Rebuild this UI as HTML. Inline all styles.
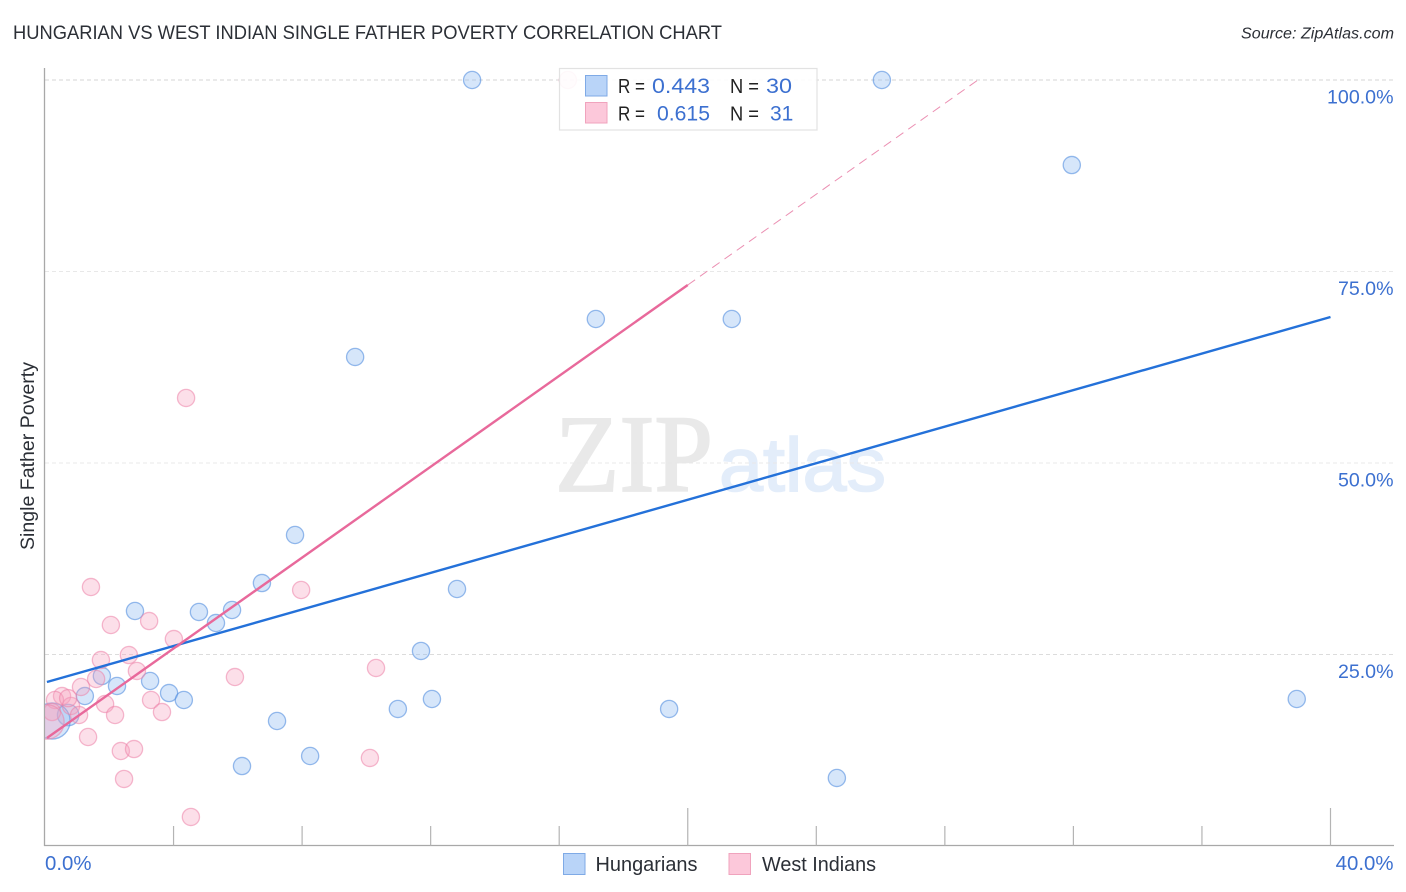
<!DOCTYPE html>
<html lang="en">
<head>
<meta charset="utf-8">
<title>Hungarian vs West Indian Single Father Poverty Correlation Chart</title>
<style>
  html, body { margin: 0; padding: 0; background: #fff; }
  body { width: 1406px; height: 892px; overflow: hidden; }
  svg { display: block; font-family: "Liberation Sans", sans-serif; }
</style>
</head>
<body>
<svg id="chart" xmlns="http://www.w3.org/2000/svg" width="1406" height="892" viewBox="0 0 1406 892">
  <defs>
    <clipPath id="plot-clip"><rect x="45" y="60" width="1349" height="786"/></clipPath>
  </defs>
  <rect x="0" y="0" width="1406" height="892" fill="#ffffff"/>

  <text x="13" y="39" font-size="19" fill="#2b2f36" textLength="709" lengthAdjust="spacingAndGlyphs">HUNGARIAN VS WEST INDIAN SINGLE FATHER POVERTY CORRELATION CHART</text>
  <text x="1394" y="38.5" font-size="15.5" font-style="italic" fill="#2b2f36" text-anchor="end" textLength="153" lengthAdjust="spacingAndGlyphs">Source: ZipAtlas.com</text>

  <g id="watermark">
    <text x="555" y="491" font-family="'Liberation Serif', serif" font-size="110" fill="#e9e9e9" stroke="#e9e9e9" stroke-width="1.8" textLength="158" lengthAdjust="spacingAndGlyphs">ZIP</text>
    <text x="719" y="491" font-size="76" fill="#e3edfa" stroke="#e3edfa" stroke-width="1.6" textLength="167" lengthAdjust="spacingAndGlyphs">atlas</text>
  </g>

  <g id="grid"></g>
  <g id="axes"></g>
  <g id="points" clip-path="url(#plot-clip)"></g>
  <g id="trends"></g>

  <text transform="translate(34 456) rotate(-90)" font-size="19" fill="#2b2f36" text-anchor="middle" textLength="188" lengthAdjust="spacingAndGlyphs">Single Father Poverty</text>

  <g id="stat-legend">
    <rect x="559.5" y="68.5" width="257.5" height="61.5" fill="#ffffff" fill-opacity="0.9" stroke="#e2e2e2" stroke-width="1.2"/>
    <rect x="585.5" y="75.5" width="21.5" height="20.5" fill="#b9d4f8" stroke="#7faae6" stroke-width="1"/>
    <rect x="585.5" y="102.5" width="21.5" height="20.5" fill="#fcc8da" stroke="#f0a3bd" stroke-width="1"/>
    <g font-size="20" fill="#222222">
      <text x="618" y="93" textLength="27" lengthAdjust="spacingAndGlyphs">R =</text>
      <text x="730" y="93" textLength="29" lengthAdjust="spacingAndGlyphs">N =</text>
      <text x="618" y="120.5" textLength="27" lengthAdjust="spacingAndGlyphs">R =</text>
      <text x="730" y="120.5" textLength="29" lengthAdjust="spacingAndGlyphs">N =</text>
    </g>
    <g font-size="21" fill="#3c70d0">
      <text x="652" y="93" textLength="58" lengthAdjust="spacingAndGlyphs">0.443</text>
      <text x="766" y="93" textLength="26" lengthAdjust="spacingAndGlyphs">30</text>
      <text x="657" y="120.5" textLength="53" lengthAdjust="spacingAndGlyphs">0.615</text>
      <text x="770" y="120.5">31</text>
    </g>
  </g>

  <g id="series-legend">
    <rect x="563.5" y="853.5" width="21.5" height="21" fill="#b9d4f8" stroke="#7faae6" stroke-width="1"/>
    <text x="595.5" y="871" font-size="20" fill="#2b2f36" textLength="102" lengthAdjust="spacingAndGlyphs">Hungarians</text>
    <rect x="729" y="853.5" width="21.5" height="21" fill="#fcc8da" stroke="#f0a3bd" stroke-width="1"/>
    <text x="762" y="871" font-size="20" fill="#2b2f36" textLength="114" lengthAdjust="spacingAndGlyphs">West Indians</text>
  </g>
</svg>

<script>
const hungariansX = [13.29, 26.04, 31.95, 17.14, 21.37, 9.65, 7.78, 6.75, 12.82, 2.80, 4.79, 5.82, 5.32, 11.70, 1.77, 2.24, 3.27, 1.24, 3.86, 4.32, 12.04, 10.98, 19.42, 38.95, 7.22, 8.25, 6.13, 24.64, 0.72, 0.22];
const hungariansY = [100, 100, 88.9, 68.8, 68.8, 63.84, 40.6, 34.33, 33.55, 30.68, 30.55, 30.81, 29.11, 25.46, 22.19, 20.89, 21.54, 19.58, 19.97, 19.06, 19.19, 17.89, 17.89, 19.19, 16.32, 11.75, 10.44, 8.88, 17.1, 16.32];
const hungariansWeight = [1, 1, 1, 1, 1, 1, 1, 1, 1, 1, 1, 1, 1, 1, 1, 1, 1, 1, 1, 1, 1, 1, 1, 1, 1, 1, 1, 1, 1.25, 2.1];

const westIndiansX = [16.27, 4.39, 1.43, 7.97, 3.24, 2.05, 4.01, 2.61, 1.74, 5.91, 10.30, 2.86, 1.59, 1.12, 0.53, 0.31, 0.81, 1.06, 0.22, 1.87, 2.18, 3.30, 3.64, 1.34, 2.36, 2.77, 10.11, 2.46, 4.54, 0.72, 0.06];
const westIndiansY = [100, 58.49, 33.81, 33.42, 29.37, 28.85, 27.02, 24.93, 24.28, 22.06, 23.24, 22.85, 21.8, 20.76, 19.58, 19.06, 18.28, 17.1, 17.49, 18.54, 17.1, 19.06, 17.49, 14.23, 12.4, 12.66, 11.49, 8.75, 3.79, 19.3, 16.19];
const westIndiansWeight = [1, 1, 1, 1, 1, 1, 1, 1, 1, 1, 1, 1, 1, 1, 1, 1, 1, 1, 1, 1, 1, 1, 1, 1, 1, 1, 1, 1, 1, 1, 2];

const hungariansTrendX = [0.06, 40];
const hungariansTrendY = [21.41, 69.06];
const westIndiansTrendX = [0.06, 20];
const westIndiansTrendY = [14.1, 73.24];
const westIndiansExtendX = [20, 29.03];
const westIndiansExtendY = [73.24, 100];

const xTickValues = [0, 4, 8, 12, 16, 20, 24, 28, 32, 36, 40];
const xMajorTicks = [20, 40];
const xTickLabels = ["0.0%", "40.0%"];
const xLabelValues = [0, 40];
const yTickValues = [100, 75, 50, 25];
const yTickLabels = ["100.0%", "75.0%", "50.0%", "25.0%"];

const NS = 'http://www.w3.org/2000/svg';
function xScale(v) { return 45 + v * 32.1375; }
function yScale(v) { return 846 - v * 7.66; }
function make(tag, attrs, parent) {
  const el = document.createElementNS(NS, tag);
  for (const k in attrs) el.setAttribute(k, attrs[k]);
  parent.appendChild(el);
  return el;
}

const gridG = document.getElementById('grid');
const axesG = document.getElementById('axes');
const pointsG = document.getElementById('points');
const trendsG = document.getElementById('trends');

yTickValues.forEach(function (v, i) {
  const line = make('line', { x1: 45, x2: 1394, y1: yScale(v), y2: yScale(v), stroke: v === 100 ? '#d6d6d6' : (v === 25 ? '#dcdcdc' : '#e8e8e8'), 'stroke-width': 1, 'stroke-dasharray': '4 3' }, gridG);
  
  
  const label = make('text', { x: 1393.5, y: yScale(v) + 23.5, 'font-size': 19.6, fill: '#3c70d0', 'text-anchor': 'end' }, axesG);
  label.textContent = yTickLabels[i];
  
  
});

const yAxisLine = make('line', { x1: 44.5, x2: 44.5, y1: 68, y2: 846, stroke: '#a8a8a8', 'stroke-width': 1.3 }, axesG);


const xAxisLine = make('line', { x1: 44, x2: 1394, y1: 845.5, y2: 845.5, stroke: '#a8a8a8', 'stroke-width': 1.3 }, axesG);



xTickValues.forEach(function (v) {
  if (v === 0) return;
  const major = xMajorTicks.indexOf(v) >= 0;
  const tick = make('line', { x1: xScale(v), x2: xScale(v), y1: major ? 808 : 826, y2: 845.5, stroke: '#b4b4b4', 'stroke-width': 1.2 }, axesG);
  
  
});

xLabelValues.forEach(function (v, i) {
  const label = make('text', { x: v === 0 ? xScale(v) : 1393.5, y: 870, 'font-size': 20.4, fill: '#3c70d0', 'text-anchor': v === 0 ? 'start' : 'end' }, axesG);
  label.textContent = xTickLabels[i];
  
  
});

hungariansX.forEach(function (v, i) {
  const dot = make('circle', { cx: xScale(v), cy: yScale(hungariansY[i]), r: 8.6 * hungariansWeight[i], fill: 'rgba(140,185,242,0.36)', stroke: 'rgba(80,140,222,0.58)', 'stroke-width': 1.3 }, pointsG);
  
  
});

westIndiansX.forEach(function (v, i) {
  const dot = make('circle', { cx: xScale(v), cy: yScale(westIndiansY[i]), r: 8.6 * westIndiansWeight[i], fill: 'rgba(245,160,190,0.34)', stroke: 'rgba(236,130,168,0.55)', 'stroke-width': 1.3 }, pointsG);
  
  
});

const blueTrend = make('line', { x1: xScale(hungariansTrendX[0]), y1: yScale(hungariansTrendY[0]), x2: xScale(hungariansTrendX[1]), y2: yScale(hungariansTrendY[1]), stroke: '#2471d9', 'stroke-width': 2.4 }, trendsG);



const pinkTrend = make('line', { x1: xScale(westIndiansTrendX[0]), y1: yScale(westIndiansTrendY[0]), x2: xScale(westIndiansTrendX[1]), y2: yScale(westIndiansTrendY[1]), stroke: '#e8699b', 'stroke-width': 2.4 }, trendsG);



const pinkExtend = make('line', { x1: xScale(westIndiansExtendX[0]), y1: yScale(westIndiansExtendY[0]), x2: xScale(westIndiansExtendX[1]), y2: yScale(westIndiansExtendY[1]), stroke: '#eb8fb2', 'stroke-width': 1, 'stroke-dasharray': '9 6' }, trendsG);


</script>
</body>
</html>
